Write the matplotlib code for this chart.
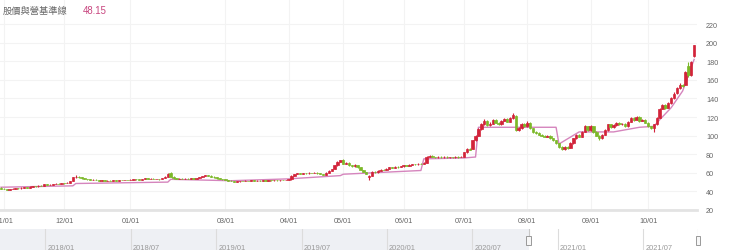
import matplotlib
matplotlib.use("Agg")
import matplotlib.pyplot as plt
from matplotlib.patches import Rectangle
import numpy as np

plt.rcParams['font.family'] = ['Liberation Sans', 'Noto Sans CJK TC', 'DejaVu Sans']

title = "股價與營基準線"
title_value = "48.15"

# trading days per month, 2020/10 (last day only) .. 2021/10
month_names = ['2020/10', '2020/11', '2020/12', '2021/01', '2021/02', '2021/03', '2021/04',
               '2021/05', '2021/06', '2021/07', '2021/08', '2021/09', '2021/10']
month_days = [1, 21, 23, 20, 13, 22, 19, 21, 21, 22, 22, 20, 17]
shown_ticks = ['11/01', '12/01', '01/01', '03/01', '04/01', '05/01', '06/01',
               '07/01', '08/01', '09/01', '10/01']

opens = [44, 43, 42.5, 42, 42.3, 43, 43.5, 43.2, 44, 44.5,
         44.2, 45, 45.5, 45.3, 46.2, 46, 47.5, 47, 47.2, 48,
         48.5, 48.2, 49, 48.8, 49.5, 51, 55, 56, 55, 54,
         53.5, 53, 52.5, 52.8, 52, 51.5, 51.8, 51.3, 51.6, 51.4,
         52, 51.7, 52.2, 52, 52.5, 52.2, 52.8, 53.3, 53, 52.5,
         53.5, 54, 53.6, 53.8, 53.2, 53.5, 53, 54.5, 56, 60,
         56, 54, 53.5, 53.8, 53.4, 53.8, 53.5, 54, 53.7, 54.5,
         55.5, 56.5, 57.5, 57, 56, 55, 54, 53.5, 53, 52,
         51.5, 51, 50.5, 50.8, 51.2, 51, 51.5, 51.3, 51.8, 51.5,
         51.7, 51.4, 51.8, 51.5, 52, 51.8, 52.1, 51.9, 52.3, 52,
         52.5, 53, 57, 58.5, 59.5, 59, 59.8, 59.3, 60, 59.6,
         60.2, 59.5, 58.5, 58, 60, 62, 64, 68, 72, 74,
         70, 71, 68, 67, 68.5, 66, 63, 61, 55, 57,
         61, 60.5, 62, 63.5, 63, 64.5, 66, 65.5, 66.5, 66,
         67, 68, 67.5, 68.5, 69.5, 69, 70, 69.5, 71, 77,
         78.5, 77, 76.5, 77.5, 76.8, 77.2, 76.5, 77, 76.6, 77.3,
         76.8, 77.5, 82, 86, 86, 95, 100, 107, 112, 116,
         111, 113, 117, 114, 112, 116, 118, 115, 119, 121,
         106, 108, 113, 110, 114, 108, 104, 103, 101, 100,
         99, 100, 97, 95, 92, 88, 85.5, 88, 87, 92,
         97, 101, 99, 104, 110, 106, 110, 104, 100, 97,
         101, 106, 112, 109, 111, 114, 112, 113, 110, 115,
         119, 117, 120, 116, 117, 114, 110, 108, 112, 119,
         129, 133, 130, 135, 140, 146, 151, 155, 155, 175,
         165, 186]
closes = [43, 42.5, 42, 42.3, 43, 43.5, 43.2, 44, 44.5, 44.2,
          45, 45.5, 45.3, 46.2, 46, 47.5, 47, 47.2, 48, 48.5,
          48.2, 49, 48.8, 49.5, 51, 55, 56, 55, 54, 53.5,
          53, 52.5, 52.8, 52, 51.5, 51.8, 51.3, 51.6, 51.4, 52,
          51.7, 52.2, 52, 52.5, 52.2, 52.8, 53.3, 53, 52.5, 53.5,
          54, 53.6, 53.8, 53.2, 53.5, 53, 54.5, 56, 59, 56,
          54, 53.5, 53.8, 53.4, 53.8, 53.5, 54, 53.7, 54.5, 55.5,
          56.5, 57.5, 57, 56, 55, 54, 53.5, 53, 52, 51.5,
          51, 50.5, 50.8, 51.2, 51, 51.5, 51.3, 51.8, 51.5, 51.7,
          51.4, 51.8, 51.5, 52, 51.8, 52.1, 51.9, 52.3, 52, 52.5,
          53, 57, 58.5, 59.5, 59, 59.8, 59.3, 60, 59.6, 60.2,
          59.5, 58.5, 58, 60, 62, 64, 68, 72, 73.5, 70,
          71, 68, 67, 68.5, 66, 63, 61, 59, 57, 61,
          60.5, 62, 63.5, 63, 64.5, 66, 65.5, 66.5, 66, 67,
          68, 67.5, 68.5, 69.5, 69, 70, 69.5, 71, 77, 78.5,
          77, 76.5, 77.5, 76.8, 77.2, 76.5, 77, 76.6, 77.3, 76.8,
          77.5, 82, 86, 85, 95, 100, 107, 112, 116, 111,
          113, 117, 114, 112, 116, 118, 115, 119, 122, 106,
          108, 113, 110, 114, 108, 104, 103, 101, 100, 99,
          100, 97, 95, 92, 88, 85.5, 88, 87, 92, 97,
          101, 99, 104, 110, 106, 110, 104, 100, 97, 101,
          106, 112, 109, 111, 114, 112, 113, 110, 115, 119,
          117, 120, 116, 117, 114, 110, 108, 112, 119, 129,
          133, 130, 135, 140, 145, 151, 155, 153, 168, 165,
          179, 197]
highs = [44.6, 43.4, 42.8, 42.6, 43.3, 43.8, 43.9, 44.3, 44.8, 44.9,
         45.3, 45.9, 45.9, 46.5, 46.6, 47.8, 47.9, 47.6, 48.3, 48.9,
         48.8, 49.3, 49.4, 49.8, 51.4, 55.5, 57.2, 56.4, 55.3, 54.4,
         53.8, 53.3, 53.1, 53, 52.3, 52.1, 52, 51.9, 51.8, 52.3,
         52.2, 52.5, 52.4, 52.8, 52.7, 53.1, 53.6, 53.5, 53.2, 53.8,
         54.4, 54.2, 54.1, 54, 53.8, 53.7, 54.8, 56.4, 59.5, 61.2,
         56.3, 54.3, 54.1, 54, 54.1, 54, 54.3, 54.2, 54.8, 55.8,
         56.9, 58, 57.8, 57.3, 56.2, 55.3, 54.3, 53.8, 53.2, 52.3,
         51.8, 51.2, 51.1, 51.5, 51.4, 51.8, 51.7, 52.1, 52, 52,
         51.9, 52.1, 52, 52.3, 52.2, 52.4, 52.3, 52.6, 52.5, 52.8,
         53.4, 57.5, 59, 60, 59.9, 60.2, 60.1, 60.4, 60.3, 60.6,
         60.5, 59.7, 58.8, 60.4, 62.5, 64.5, 68.6, 72.6, 74.3, 75,
         71.6, 71.4, 68.5, 69, 68.8, 66.3, 63.4, 61.3, 58, 61.5,
         61.6, 62.5, 64, 64, 65, 66.5, 66.4, 67, 66.9, 67.5,
         68.5, 68.4, 69, 70, 69.9, 70.5, 70.4, 71.5, 77.6, 79.3,
         78.9, 77.5, 78, 77.9, 77.7, 77.6, 77.5, 77.4, 77.8, 77.7,
         78, 82.6, 86.8, 86.9, 95.8, 101, 108, 113.5, 117.5, 117,
         114.5, 118, 117.8, 114.8, 116.8, 119.2, 118.8, 120, 124, 121.8,
         109.5, 114, 113.8, 115.5, 114.6, 108.7, 105, 103.6, 101.8, 100.7,
         100.8, 100.5, 97.6, 95.5, 92.6, 88.5, 89, 88.8, 92.8, 97.8,
         102, 101.8, 105, 111, 110.8, 111.5, 110.6, 104.8, 100.6, 101.8,
         107, 113, 112.8, 112, 115, 114.8, 114, 113.6, 116, 120,
         119.8, 121, 120.6, 118, 117.6, 114.6, 110.7, 113, 120, 130,
         134.5, 133.8, 136.2, 141.5, 146.5, 152.5, 156.5, 156, 169.5, 179,
         180.5, 198]
lows = [42.6, 42.1, 41.6, 41.7, 42.1, 42.8, 43, 43, 43.8, 44,
        44, 44.8, 45, 45.1, 45.7, 45.8, 46.7, 46.6, 47, 47.8,
        47.9, 48, 48.5, 48.6, 49.3, 50.8, 54.6, 54.6, 53.7, 53.1,
        52.7, 52.2, 52.2, 51.8, 51.2, 51.2, 51.1, 51.1, 51.1, 51.2,
        51.5, 51.5, 51.8, 51.8, 52, 52, 52.6, 52.8, 52.2, 52.3,
        53.3, 53.3, 53.4, 53, 53, 52.8, 52.9, 54.3, 55.8, 55.6,
        53.7, 53.1, 53.2, 53.1, 53.2, 53.2, 53.3, 53.4, 53.5, 54.3,
        55.3, 56.3, 56.7, 55.7, 54.7, 53.7, 53.2, 52.7, 51.8, 51.2,
        50.7, 50.2, 50.2, 50.6, 50.8, 50.8, 51, 51.1, 51.3, 51.3,
        51.2, 51.2, 51.3, 51.3, 51.6, 51.6, 51.7, 51.7, 51.8, 51.8,
        52.3, 52.8, 56.7, 58.2, 58.7, 58.7, 59, 59.1, 59.3, 59.4,
        59.2, 58.2, 57.6, 57.8, 59.8, 61.7, 63.7, 67.6, 71.5, 69.5,
        69.4, 67.5, 66.5, 66.6, 65.5, 62.5, 60.5, 58.2, 52, 56.5,
        60, 60.2, 61.7, 62.6, 62.8, 64.2, 65.1, 65.2, 65.6, 65.8,
        66.7, 67.1, 67.2, 68.2, 68.6, 68.7, 69.1, 69.2, 70.7, 76.6,
        76.5, 76, 76.1, 76.4, 76.4, 76.1, 76.1, 76.2, 76.3, 76.4,
        76.5, 77.2, 81.6, 84.3, 85.6, 94.5, 99.5, 106.5, 111.5, 110,
        110.2, 112.5, 113.2, 111, 111.5, 115.3, 114.2, 114.5, 118.3, 105,
        105, 107.3, 109, 109.4, 107.2, 103.2, 102.2, 100.3, 99.2, 98.2,
        98.3, 96.3, 94.2, 91.3, 87.2, 84.5, 84.7, 86, 86.5, 91.5,
        96.3, 98, 98.4, 103.5, 105, 105.3, 103, 99.2, 95.8, 96.4,
        100.5, 105.5, 108.2, 108.4, 110.5, 111.2, 111.4, 109.2, 109.5, 114.4,
        116.2, 116.5, 115.2, 115.4, 113.2, 109.2, 107.2, 104, 111.5, 118.5,
        128.3, 129, 129.4, 134.3, 139.4, 145.3, 150.3, 152, 154.3, 163.5,
        164, 185]

# baseline (pink line): trading-day index -> value
base_idx = [0, 25, 26, 58, 59, 80, 100, 118, 119, 146, 147, 161, 165, 166,
            193, 194, 201, 213, 222, 227, 229, 233, 237, 241]
base_val = [44.5, 46, 48.5, 50, 53, 51.5, 53.5, 57, 58.5, 62.5, 75, 76, 77, 109,
            109, 91, 104, 104, 109, 110, 117, 130, 148, 182]

# navigator (overview) axis
nav_start = (2017, 9, 26)
nav_end = (2021, 10, 26)
nav_labels = ['2018/01', '2018/07', '2019/01', '2019/07', '2020/01', '2020/07', '2021/01', '2021/07']
sel_start = (2020, 10, 30)

assert len(opens) == len(closes) == len(highs) == len(lows) == sum(month_days)

W, H = 740, 251
fig = plt.figure(figsize=(W / 100, H / 100), dpi=100)
ax = fig.add_axes([0, 40 / H, 697 / W, 211 / H])

n = len(closes)
x = np.arange(n)
o = np.array(opens)
c = np.array(closes)
up = c >= o
red, green = '#d2233a', '#7cb829'
cols = np.where(up, red, green)

ax.vlines(x, lows, highs, colors=cols, linewidth=0.8, zorder=3)
ax.bar(x, c - o, bottom=o, width=0.85, color=cols, edgecolor=cols, linewidth=0.5, zorder=4)
ax.plot(base_idx, base_val, color='#d585bd', linewidth=1.0, zorder=2)

starts = np.concatenate([[0], np.cumsum(month_days)[:-1]])
tick_pos, tick_lab = [], []
for name, s in zip(month_names, starts):
    lab = name[5:] + '/01'
    if lab in shown_ticks and s > 0:
        tick_pos.append(s)
        tick_lab.append(lab)

ax.set_xlim(-0.35, n)
ax.set_ylim(20, 247)
ax.set_xticks(tick_pos)
ax.set_xticklabels(tick_lab)
ax.set_yticks(np.arange(20, 221, 20))
ax.yaxis.tick_right()
ax.tick_params(axis='y', length=0, pad=6.5, labelsize=5.2, labelcolor='#666666')
ax.tick_params(axis='x', length=0, pad=5.2, labelsize=5.2, labelcolor='#666666')
ax.grid(axis='both', color='#f3f3f3', linewidth=0.8, zorder=0)
ax.set_axisbelow(True)
for s in ['top', 'left', 'right']:
    ax.spines[s].set_visible(False)
ax.spines['bottom'].set_color('#e3e3e3')
ax.spines['bottom'].set_linewidth(2)

fig.text(3 / W, 1 - 11 / H, title, fontsize=6.7, color='#666666', va='center',
         family=['Noto Sans CJK TC', 'DejaVu Sans'])
fig.text(83 / W, 1 - 11 / H, title_value, fontsize=6.9, color='#c8457f', va='center')

# navigator
def months(d):
    return d[0] * 12 + (d[1] - 1) + (d[2] - 1) / 30.0

nav = fig.add_axes([0, 0, 698 / W, 21 / H])
nav.set_xlim(months(nav_start), months(nav_end))
nav.set_ylim(0, 1)
nav.axis('off')
nav.add_patch(Rectangle((months(nav_start), 0), months(sel_start) - months(nav_start), 1,
                        facecolor='#eef0f4', edgecolor='none', zorder=0))
for lab in nav_labels:
    m = months((int(lab[:4]), int(lab[5:]), 1))
    nav.axvline(m, color='#dcdcdc', linewidth=0.8, zorder=1)
    nav.text(m + 0.15, 0.28, lab, fontsize=5.4, color='#999999', va='top', ha='left')

hw = 5 / (698 / (months(nav_end) - months(nav_start)))
for m in [months(sel_start), months(nav_end)]:
    nav.plot([m, m], [0.67, 1], color='#c8c8c8', linewidth=0.8, zorder=2)
    nav.add_patch(Rectangle((m - hw / 2, 0.24), hw, 0.43, facecolor='#f7f7f7',
                            edgecolor='#999999', linewidth=0.7, zorder=3, clip_on=False))

fig.savefig('out.png', dpi=100)
